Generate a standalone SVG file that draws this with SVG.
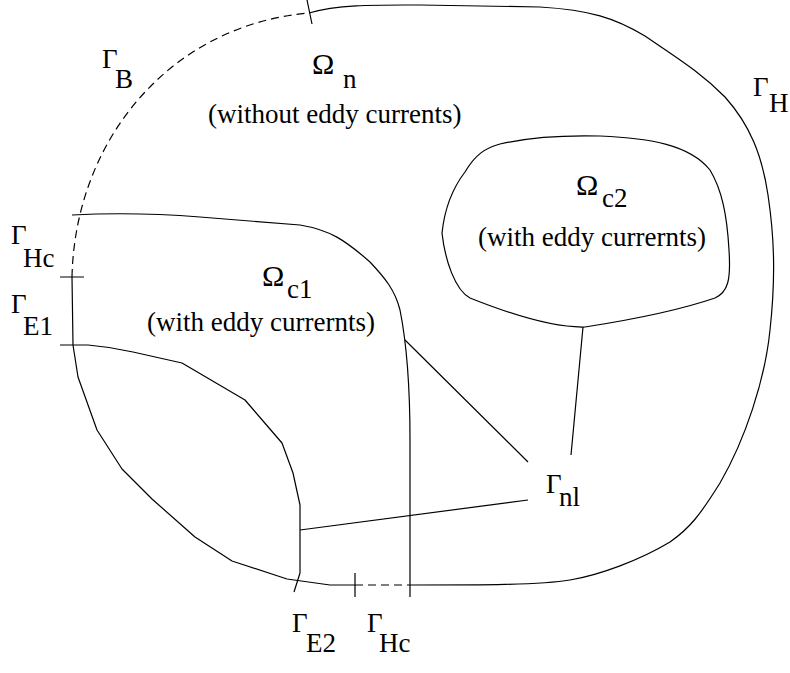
<svg xmlns="http://www.w3.org/2000/svg" width="790" height="673" viewBox="0 0 790 673">
<style>
.ln{fill:none;stroke:#000;stroke-width:1.2;stroke-linejoin:round}
.dash{fill:none;stroke:#000;stroke-width:1.2;stroke-dasharray:8,5}
.t{font-family:"Liberation Serif","Times New Roman",serif;font-size:27px;fill:#000}
.g{font-family:"Liberation Serif","Times New Roman",serif;font-size:27px;fill:#000}
.o{font-family:"Liberation Serif","Times New Roman",serif;font-size:30px;fill:#000}
</style>
<rect width="790" height="673" fill="#fff"/>
<g id="outer-boundary">
<path class="dash" d="M72,277 C75,140 170,25 309,13"/>
<path class="ln" d="M309,13 C340,4 380,5 420,5 L540,7 C590,10 615,18 645,36 C680,60 700,72 725,97 C750,125 762,155 768,195 C774,235 776,275 770,330 C765,380 745,440 720,483 C700,515 690,528 670,542 C640,560 600,575 570,580 C540,585 480,585 410,585"/>
<path class="dash" d="M355,585 L410,585"/>
<path class="ln" d="M355,585 L330,585 L287,579 L232,561 L195,537 L152,499 L122,469 L97,430 L78,377 L73,345 L72,277"/>
<path class="ln" d="M307,0 L312,24 M60,277 L84,277 M355,573 L355,597"/>
</g>
<g id="omega-c1">
<path class="ln" d="M72,215 C110,213 150,213 200,217 L300,225 C330,230 345,240 370,262 C385,278 395,290 400,310 C406,340 410,380 410,440 L410,597"/>
</g>
<g id="lower-region">
<path class="ln" d="M60,345 L88,345 C100,346 120,349 133,352 L182,363 L245,400 L282,443 L293,473 L300,505 L300,573 L294,592"/>
</g>
<g id="omega-c2">
<path class="ln" d="M442,233 C445,205 455,185 465,172 C475,155 485,148 500,144 C530,137 560,135 600,136 C650,138 690,145 710,170 C722,190 727,215 729,250 C731,280 728,292 715,298 C680,310 630,320 585,327 C550,328 500,310 470,298 C455,290 445,260 442,233 Z"/>
</g>
<g id="connectors">
<path class="ln" d="M583,327 L571,455 M405,340 L528,462 M300,530 L528,500"/>
</g>
<g id="labels">
<text class="g" x="102" y="68">Γ</text><text class="g" x="115" y="88">B</text>
<text class="o" x="312" y="74">Ω</text><text class="g" x="343" y="88">n</text>
<text class="t" x="208" y="123">(without eddy currents)</text>
<text class="g" x="753" y="96">Γ</text><text class="g" x="769" y="112">H</text>
<text class="o" x="576" y="195">Ω</text><text class="g" x="602" y="207">c2</text>
<text class="t" x="478" y="246">(with eddy currernts)</text>
<text class="o" x="262" y="286">Ω</text><text class="g" x="287" y="298">c1</text>
<text class="t" x="147" y="331">(with eddy currernts)</text>
<text class="g" x="11" y="244">Γ</text><text class="g" x="23" y="267">Hc</text>
<text class="g" x="11" y="313">Γ</text><text class="g" x="23" y="335">E1</text>
<text class="g" x="546" y="493">Γ</text><text class="g" x="559" y="506">nl</text>
<text class="g" x="292" y="632">Γ</text><text class="g" x="306" y="652">E2</text>
<text class="g" x="367" y="632">Γ</text><text class="g" x="379" y="652">Hc</text>
</g>
</svg>
